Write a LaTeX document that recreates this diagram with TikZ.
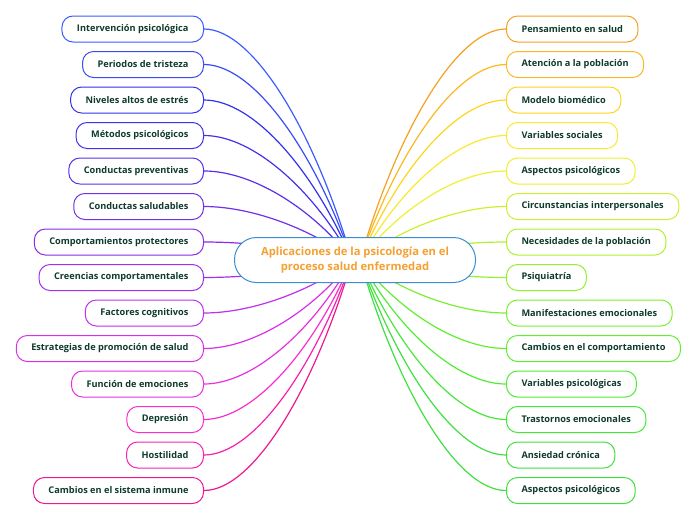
\documentclass[tikz,border=0pt]{standalone}
\usepackage{fontspec}
\setmainfont{Open Sans}
\usetikzlibrary{positioning}

\definecolor{leaftext}{HTML}{0E3B2C}
\definecolor{rootline}{HTML}{3C8DD0}
\definecolor{roottext}{HTML}{F5A030}
% left branches, blue to pink
\definecolor{l1}{HTML}{3C5CFF}
\definecolor{l2}{HTML}{3A4CF6}
\definecolor{l3}{HTML}{3232EA}
\definecolor{l4}{HTML}{4430EC}
\definecolor{l5}{HTML}{5A30EA}
\definecolor{l6}{HTML}{7230EA}
\definecolor{l7}{HTML}{8A2CE6}
\definecolor{l8}{HTML}{A030EE}
\definecolor{l9}{HTML}{C030EE}
\definecolor{l10}{HTML}{D830E8}
\definecolor{l11}{HTML}{E830DE}
\definecolor{l12}{HTML}{FA2ECC}
\definecolor{l13}{HTML}{F820B0}
\definecolor{l14}{HTML}{EE1890}
% right branches, orange to green
\definecolor{r1}{HTML}{F5A020}
\definecolor{r2}{HTML}{FBB820}
\definecolor{r3}{HTML}{FDD420}
\definecolor{r4}{HTML}{FBE830}
\definecolor{r5}{HTML}{EEF030}
\definecolor{r6}{HTML}{CCF030}
\definecolor{r7}{HTML}{B0F030}
\definecolor{r8}{HTML}{94F030}
\definecolor{r9}{HTML}{7AF030}
\definecolor{r10}{HTML}{62EE30}
\definecolor{r11}{HTML}{50EC34}
\definecolor{r12}{HTML}{44E838}
\definecolor{r13}{HTML}{40E040}
\definecolor{r14}{HTML}{40E040}

\tikzset{
  leaf/.style={draw=#1, line width=1pt, fill=white, rounded corners=11pt,
    minimum height=26pt, inner xsep=15pt, text=leaftext,
    font=\fontsize{9.2}{11}\selectfont\bfseries},
  link/.style={draw=#1, line width=1.2pt},
  root/.style={draw=rootline, line width=1pt, fill=white, rounded corners=22pt,
    minimum width=241pt, minimum height=45pt, align=center, text=roottext,
    font=\fontsize{11.2}{15}\selectfont\bfseries}
}

\begin{document}
\begin{tikzpicture}[x=1pt, y=-1pt]
	\useasboundingbox (0,0) rectangle (696,520);
	\coordinate (hubL) at (352, 260);
	\coordinate (hubR) at (360, 260);

	% left side
	\node[leaf=l1, anchor=east]  (interv)    at (204, 29)  {Intervención psicológica};
	\node[leaf=l2, anchor=east]  (periodos)  at (204, 64.5) {Periodos de tristeza};
	\node[leaf=l3, anchor=east]  (niveles)   at (204, 100) {Niveles altos de estrés};
	\node[leaf=l4, anchor=east]  (metodos)   at (204, 135.5) {Métodos psicológicos};
	\node[leaf=l5, anchor=east]  (cprev)     at (204, 171) {Conductas preventivas};
	\node[leaf=l6, anchor=east]  (csalud)    at (204, 206.5) {Conductas saludables};
	\node[leaf=l7, anchor=east]  (comport)   at (204, 242) {Comportamientos protectores};
	\node[leaf=l8, anchor=east]  (creencias) at (204, 277.5) {Creencias comportamentales};
	\node[leaf=l9, anchor=east]  (factores)  at (204, 313) {Factores cognitivos};
	\node[leaf=l10, anchor=east] (estrateg)  at (204, 348.5) {Estrategias de promoción de salud};
	\node[leaf=l11, anchor=east] (funcion)   at (204, 384) {Función de emociones};
	\node[leaf=l12, anchor=east] (depresion) at (204, 419.5) {Depresión};
	\node[leaf=l13, anchor=east] (hostil)    at (204, 455) {Hostilidad};
	\node[leaf=l14, anchor=east] (inmune)    at (204, 490.5) {Cambios en el sistema inmune};

	% right side
	\node[leaf=r1, anchor=west]  (pensam)    at (506, 29)  {Pensamiento en salud};
	\node[leaf=r2, anchor=west]  (atencion)  at (506, 64.5) {Atención a la población};
	\node[leaf=r3, anchor=west]  (modelo)    at (506, 100) {Modelo biomédico};
	\node[leaf=r4, anchor=west]  (varsoc)    at (506, 135.5) {Variables sociales};
	\node[leaf=r5, anchor=west]  (aspectos)  at (506, 171) {Aspectos psicológicos};
	\node[leaf=r6, anchor=west]  (circuns)   at (506, 206.5) {Circunstancias interpersonales};
	\node[leaf=r7, anchor=west]  (necesid)   at (506, 242) {Necesidades de la población};
	\node[leaf=r8, anchor=west]  (psiq)      at (506, 277.5) {Psiquiatría};
	\node[leaf=r9, anchor=west]  (manif)     at (506, 313) {Manifestaciones emocionales};
	\node[leaf=r10, anchor=west] (cambios)   at (506, 348.5) {Cambios en el comportamiento};
	\node[leaf=r11, anchor=west] (varpsi)    at (506, 384) {Variables psicológicas};
	\node[leaf=r12, anchor=west] (trastor)   at (506, 419.5) {Trastornos emocionales};
	\node[leaf=r13, anchor=west] (ansiedad)  at (506, 455) {Ansiedad crónica};
	\node[leaf=r14, anchor=west] (aspectosb) at (506, 490.5) {Aspectos psicológicos};

	% connectors
	\draw[link=l1]  (interv.east)    .. controls +(50,0) and +(-37,-127) .. (hubL);
	\draw[link=l2]  (periodos.east)  .. controls +(50,0) and +(-37,-108) .. (hubL);
	\draw[link=l3]  (niveles.east)   .. controls +(50,0) and +(-37,-88) .. (hubL);
	\draw[link=l4]  (metodos.east)   .. controls +(50,0) and +(-37,-68) .. (hubL);
	\draw[link=l5]  (cprev.east)     .. controls +(50,0) and +(-37,-49) .. (hubL);
	\draw[link=l6]  (csalud.east)    .. controls +(50,0) and +(-37,-29) .. (hubL);
	\draw[link=l7]  (comport.east)   .. controls +(50,0) and +(-37,-10) .. (hubL);
	\draw[link=l8]  (creencias.east) .. controls +(50,0) and +(-37,10) .. (hubL);
	\draw[link=l9]  (factores.east)  .. controls +(50,0) and +(-37,29) .. (hubL);
	\draw[link=l10] (estrateg.east)  .. controls +(50,0) and +(-37,49) .. (hubL);
	\draw[link=l11] (funcion.east)   .. controls +(50,0) and +(-37,68) .. (hubL);
	\draw[link=l12] (depresion.east) .. controls +(50,0) and +(-37,88) .. (hubL);
	\draw[link=l13] (hostil.east)    .. controls +(50,0) and +(-37,107) .. (hubL);
	\draw[link=l14] (inmune.east)    .. controls +(50,0) and +(-37,127) .. (hubL);

	\draw[link=r1]  (pensam.west)    .. controls +(-50,0) and +(37,-127) .. (hubR);
	\draw[link=r2]  (atencion.west)  .. controls +(-50,0) and +(37,-108) .. (hubR);
	\draw[link=r3]  (modelo.west)    .. controls +(-50,0) and +(37,-88) .. (hubR);
	\draw[link=r4]  (varsoc.west)    .. controls +(-50,0) and +(37,-68) .. (hubR);
	\draw[link=r5]  (aspectos.west)  .. controls +(-50,0) and +(37,-49) .. (hubR);
	\draw[link=r6]  (circuns.west)   .. controls +(-50,0) and +(37,-29) .. (hubR);
	\draw[link=r7]  (necesid.west)   .. controls +(-50,0) and +(37,-10) .. (hubR);
	\draw[link=r8]  (psiq.west)      .. controls +(-50,0) and +(37,10) .. (hubR);
	\draw[link=r9]  (manif.west)     .. controls +(-50,0) and +(37,29) .. (hubR);
	\draw[link=r10] (cambios.west)   .. controls +(-50,0) and +(37,49) .. (hubR);
	\draw[link=r11] (varpsi.west)    .. controls +(-50,0) and +(37,68) .. (hubR);
	\draw[link=r12] (trastor.west)   .. controls +(-50,0) and +(37,88) .. (hubR);
	\draw[link=r13] (ansiedad.west)  .. controls +(-50,0) and +(37,107) .. (hubR);
	\draw[link=r14] (aspectosb.west) .. controls +(-50,0) and +(37,127) .. (hubR);

	% centre
	\node[root] (tema) at (355, 260) {Aplicaciones de la psicología en el\\proceso salud enfermedad};
\end{tikzpicture}
\end{document}
